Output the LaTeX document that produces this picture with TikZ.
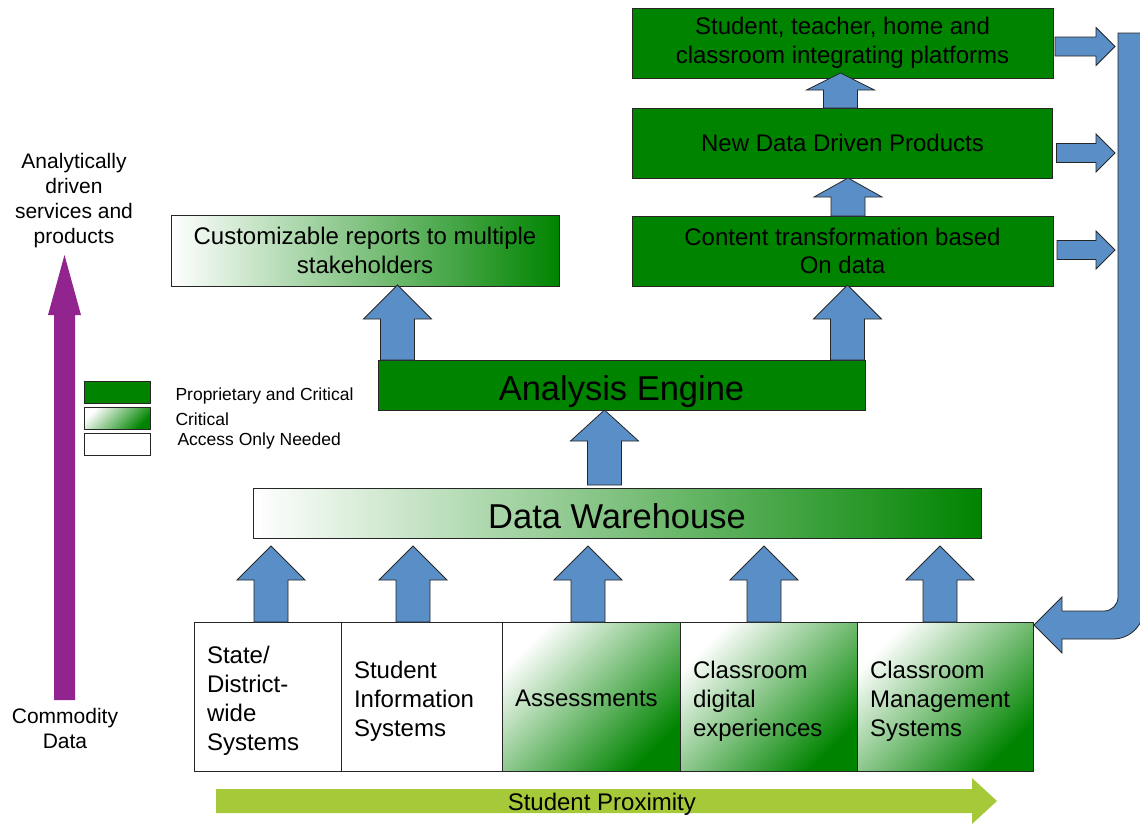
\documentclass[tikz,border=0pt]{standalone}
\usepackage{fontspec}
\setmainfont{Liberation Sans}
\usetikzlibrary{positioning, calc, arrows.meta}

\definecolor{dkgreen}{RGB}{0,132,0}
\definecolor{arrowblue}{RGB}{89,143,198}
\definecolor{riseviolet}{RGB}{146,36,143}
\definecolor{limegreen}{RGB}{166,201,58}

\tikzset{
box/.style={draw=black!85, line width=0.8pt, outer sep=0pt, inner sep=0pt, align=center, font=\fontsize{24}{28.5}\selectfont}, % every framed block
side shade/.style={left color=white, right color=dkgreen}, % white to green, left to right
corner shade/.style={top color=white, bottom color=dkgreen, shading angle=45}, % white corner to green corner
source/.style={box, minimum height=149pt, inner xsep=13pt, align=left, font=\fontsize{24}{29}\selectfont},
lowered/.style={execute at begin node=\rule{0pt}{26pt}}, % pushes stacked lines down a little
big/.style={font=\fontsize{34.5}{40}\selectfont, text height=32pt, text depth=2pt},
legend/.style={box, minimum width=66pt, minimum height=22pt},
legend text/.style={anchor=west, font=\fontsize{17.5}{21}\selectfont},
side text/.style={align=center, font=\fontsize{21}{25}\selectfont},
blockarrow/.style={draw=black!85, fill=arrowblue, line width=0.8pt},
}

% fat arrow pointing up: #1 foot, #2 tip (only its y is used), #3 head length
\newcommand{\blockup}[3]{%
  \draw[blockarrow] let \p1=#1, \p2=#2 in
    (\x1-17pt,\y1) -- (\x1-17pt,\y2-#3) -- (\x1-34pt,\y2-#3) -- (\x1,\y2)
    -- (\x1+34pt,\y2-#3) -- (\x1+17pt,\y2-#3) -- (\x1+17pt,\y1) -- cycle;
}
% fat arrow pointing right: #1 tail, #2 tip (only its x is used)
\newcommand{\blockright}[2]{%
  \draw[blockarrow] let \p1=#1, \p2=#2 in
    (\x1,\y1+9.5pt) -- (\x2-19pt,\y1+9.5pt) -- (\x2-19pt,\y1+19pt) -- (\x2,\y1)
    -- (\x2-19pt,\y1-19pt) -- (\x2-19pt,\y1-9.5pt) -- (\x1,\y1-9.5pt) -- cycle;
}

\begin{document}
\begin{tikzpicture}[x=1pt, y=-1pt]
    \useasboundingbox (0,0) rectangle (1140,823);
    \clip (0,0) rectangle (1140,823);

    % data sources
    \node[source, lowered, fill=white, minimum width=147pt, text width=121pt, anchor=west] (state) at (194,696.5) {State/\\District-\\wide\\Systems};
    \node[source, lowered, fill=white, minimum width=161pt, text width=135pt, right=0pt of state] (sis) {Student\\Information\\Systems};
    \node[source, corner shade, minimum width=178pt, text width=152pt, right=0pt of sis, execute at begin node=\rule{0pt}{21pt}] (assess) {Assessments};
    \node[source, lowered, corner shade, minimum width=177pt, text width=151pt, right=0pt of assess] (digital) {Classroom\\digital\\experiences};
    \node[source, lowered, corner shade, minimum width=176pt, text width=150pt, right=0pt of digital] (cms) {Classroom\\Management\\Systems};

    % middle layers
    \node[box, big, side shade, minimum width=728pt, minimum height=50pt] (warehouse) at (617,513) {Data Warehouse};
    \node[box, big, fill=dkgreen, minimum width=487pt, minimum height=50pt] (engine) at (621.5,385) {Analysis Engine};
    \node[box, side shade, minimum width=388pt, minimum height=71pt] (reports) at (365,250.5) {Customizable reports to multiple\\stakeholders};

    % products stack
    \node[box, fill=dkgreen, minimum width=421pt, minimum height=70pt] (content) at (842.5,251) {Content transformation based\\On data};
    \node[box, fill=dkgreen, minimum width=420pt, minimum height=70pt, above=38pt of content] (products) {New Data Driven Products};
    \node[box, fill=dkgreen, minimum width=421pt, minimum height=70pt, above=30pt of products] (platforms) {Student, teacher, home and\\classroom integrating platforms};

    % legend
    \node[legend, fill=dkgreen] (legfull) at (117,392) {};
    \node[legend, corner shade, below=4pt of legfull] (legpart) {};
    \node[legend, fill=white, below=4pt of legpart] (legnone) {};
    \node[legend text] (legfulltxt) at (172,396) {Proprietary and Critical};
    \node[legend text] (legparttxt) at (172,419) {Critical};
    \node[legend text] (legnonetxt) at (174,441) {Access Only Needed};

    % left scale
    \node[side text] (highlabel) at (74,201) {Analytically\\driven\\services and\\products};
    \node[side text] (lowlabel) at (65,728.5) {Commodity\\Data};
    \coordinate (commodity) at (64.5,700);
    \coordinate (analytic) at (64.5,255);
    \fill[riseviolet] let \p1=(commodity), \p2=(analytic) in
        (\x1-10.5pt,\y1) -- (\x1-10.5pt,\y2-60pt) -- (\x1-16.5pt,\y2-60pt) -- (\x2,\y2)
        -- (\x1+16.5pt,\y2-60pt) -- (\x1+10.5pt,\y2-60pt) -- (\x1+10.5pt,\y1) -- cycle;

    % bottom scale
    \coordinate (far) at (216,801);
    \coordinate (near) at (997,801);
    \fill[limegreen] let \p1=(far), \p2=(near) in
        (\x1,\y1+12pt) -- (\x2-25pt,\y1+12pt) -- (\x2-25pt,\y1+23pt) -- (\x2,\y1)
        -- (\x2-25pt,\y1-23pt) -- (\x2-25pt,\y1-12pt) -- (\x1,\y1-12pt) -- cycle;
    \path (far) -- node[pos=0.494, yshift=-3pt, font=\fontsize{24}{28}\selectfont] (proxlabel) {Student Proximity} (near);

    % sources into the warehouse
    \blockup{([xshift=3.5pt]state.north)}{([yshift=-8pt]warehouse.south)}{34pt}
    \blockup{([xshift=-8.5pt]sis.north)}{([yshift=-8pt]warehouse.south)}{34pt}
    \blockup{([xshift=-3pt]assess.north)}{([yshift=-8pt]warehouse.south)}{34pt}
    \blockup{([xshift=-4.5pt]digital.north)}{([yshift=-8pt]warehouse.south)}{34pt}
    \blockup{([xshift=-5pt]cms.north)}{([yshift=-8pt]warehouse.south)}{34pt}

    % warehouse -> engine -> outputs
    \blockup{([xshift=-12.5pt,yshift=3pt]warehouse.north)}{(engine.south)}{31pt}
    \blockup{([xshift=-224pt]engine.north)}{([yshift=1pt]reports.south)}{34pt}
    \blockup{([xshift=226pt]engine.north)}{([yshift=1pt]content.south)}{34pt}
    \blockup{([xshift=5.5pt]content.north)}{(products.south)}{19pt}
    \blockup{([xshift=-2pt]products.north)}{([yshift=5pt]platforms.south)}{17pt}

    % outputs feed back to the classroom
    \coordinate (rail) at (1115,33);
    \blockright{([xshift=2pt,yshift=-3.5pt]platforms.east)}{(rail)}
    \blockright{([xshift=4pt,yshift=-10pt]products.east)}{(rail)}
    \blockright{([xshift=4pt,yshift=1pt]content.east)}{(rail)}
    \draw[blockarrow] (1118,33) -- (1144,33) -- (1144,608) arc[start angle=0, end angle=90, radius=31]
        -- (1062,639) -- (1062,653) -- (1034,625) -- (1062,597) -- (1062,611) -- (1104,611)
        arc[start angle=90, end angle=0, radius=14] -- cycle;
\end{tikzpicture}
\end{document}
